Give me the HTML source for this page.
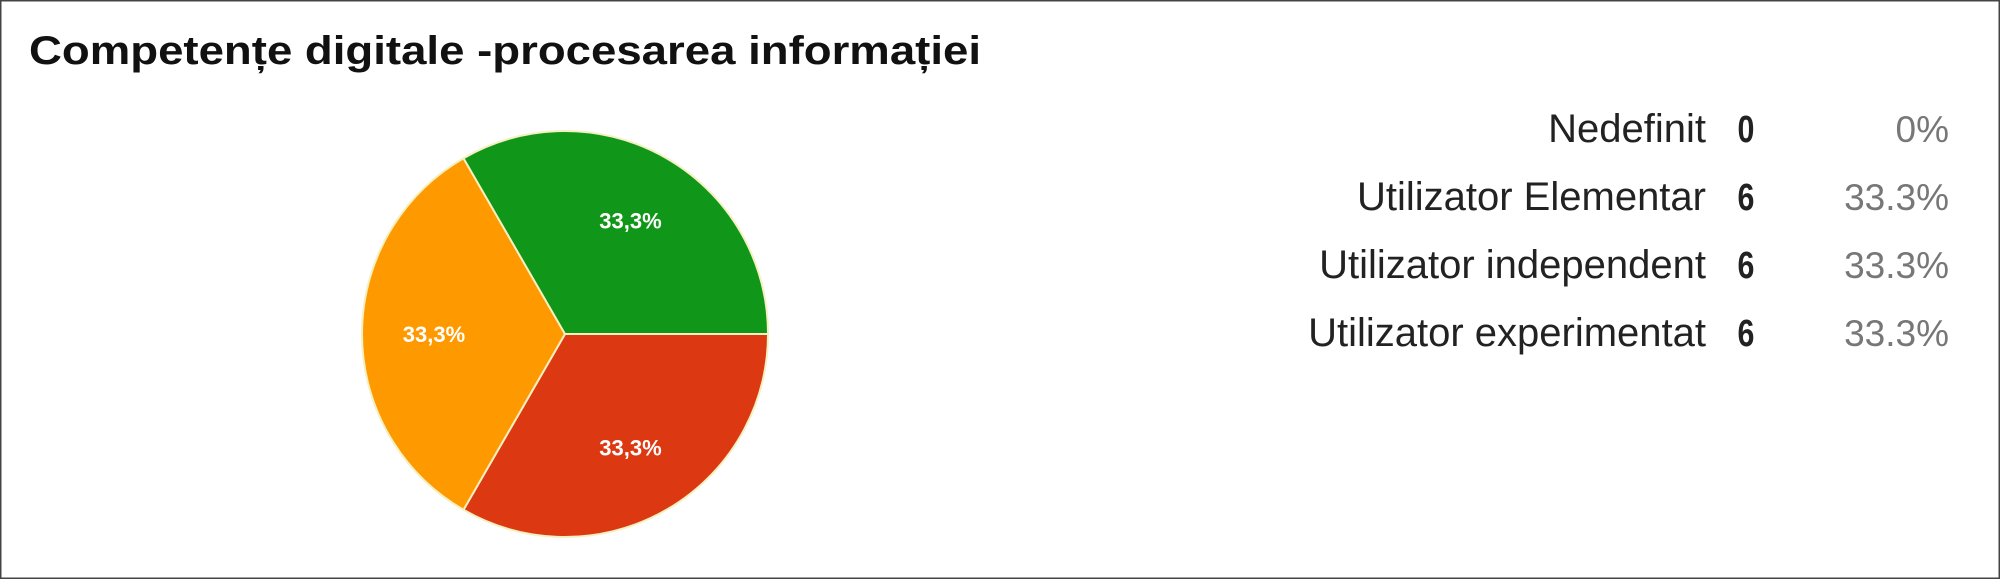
<!DOCTYPE html>
<html><head><meta charset="utf-8"><style>
html,body{margin:0;padding:0;background:#fff;}
svg{display:block;}
</style></head><body>
<svg id="chart" width="2000" height="579" viewBox="0 0 2000 579" xmlns="http://www.w3.org/2000/svg" font-family="'Liberation Sans', sans-serif">
<rect x="0.5" y="0.5" width="1999" height="578" fill="#fff" stroke="#444" stroke-width="2"/>
<text x="29" y="64" font-size="40" font-weight="bold" fill="#111" textLength="952" lengthAdjust="spacingAndGlyphs">Competențe digitale -procesarea informației</text>
<g id="slices"></g>
<g id="legend"></g>
</svg>
<script>
const categories = ["Nedefinit", "Utilizator Elementar", "Utilizator independent", "Utilizator experimentat"];
const counts = [0, 6, 6, 6];
const percentLabels = ["0%", "33.3%", "33.3%", "33.3%"];
const colors = ["#3366cc", "#dc3912", "#ff9900", "#109618"];

const NS = "http://www.w3.org/2000/svg";
const cx = 565, cy = 334, R = 203, startDeg = 90;
const total = counts.reduce((a, b) => a + b, 0);
const slicesG = document.getElementById('slices');
const legendG = document.getElementById('legend');
function pt(deg, r) {
  const a = (deg - 90) * Math.PI / 180;
  return [cx + r * Math.cos(a), cy + r * Math.sin(a)];
}
let ang = startDeg;
counts.forEach((v, i) => {
  if (v <= 0) return;
  const sweep = v / total * 360;
  const [x1, y1] = pt(ang, R), [x2, y2] = pt(ang + sweep, R);
  const p = document.createElementNS(NS, 'path');
  p.setAttribute('d', `M${cx},${cy} L${x1},${y1} A${R},${R} 0 ${sweep > 180 ? 1 : 0} 1 ${x2},${y2} Z`);
  p.setAttribute('fill', colors[i]);
  p.setAttribute('stroke', '#f4f0c0');
  p.setAttribute('stroke-width', '2');
  
  
  slicesG.appendChild(p);
  const [lx, ly] = pt(ang + sweep / 2, 131);
  const t = document.createElementNS(NS, 'text');
  t.setAttribute('x', lx); t.setAttribute('y', ly + 8);
  t.setAttribute('text-anchor', 'middle');
  t.setAttribute('font-size', '22'); t.setAttribute('font-weight', 'bold');
  t.setAttribute('fill', '#fff');
  t.textContent = (v / total * 100).toFixed(1).replace('.', ',') + '%';
  
  
  slicesG.appendChild(t);
  ang += sweep;
});
categories.forEach((c, i) => {
  const y = 142 + i * 68;
  const g = document.createElementNS(NS, 'g');
  
  
  const t1 = document.createElementNS(NS, 'text');
  t1.setAttribute('x', 1706); t1.setAttribute('y', y);
  t1.setAttribute('text-anchor', 'end'); t1.setAttribute('font-size', '40'); t1.setAttribute('fill', '#222');
  t1.textContent = c;
  
  
  const t2 = document.createElementNS(NS, 'text');
  t2.setAttribute('x', 1746); t2.setAttribute('y', y);
  t2.setAttribute('text-anchor', 'middle'); t2.setAttribute('font-size', '38'); t2.setAttribute('font-weight', 'bold'); t2.setAttribute('fill', '#222');
  t2.setAttribute('transform', `translate(1746 0) scale(0.8 1) translate(-1746 0)`);
  t2.textContent = counts[i];
  
  
  const t3 = document.createElementNS(NS, 'text');
  t3.setAttribute('x', 1949); t3.setAttribute('y', y);
  t3.setAttribute('text-anchor', 'end'); t3.setAttribute('font-size', '37'); t3.setAttribute('fill', '#777');
  t3.textContent = percentLabels[i];
  
  
  g.appendChild(t1); g.appendChild(t2); g.appendChild(t3);
  legendG.appendChild(g);
});
</script>
</body></html>
